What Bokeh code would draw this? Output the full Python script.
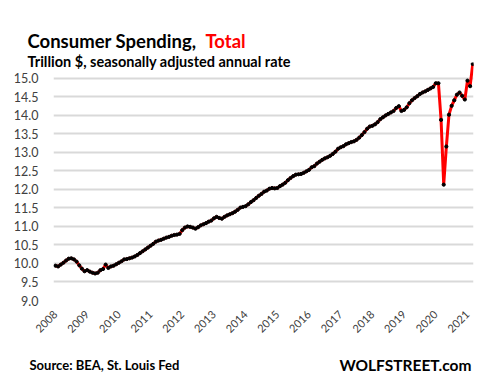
import pandas as pd
from bokeh.plotting import figure
from bokeh.models import Label, FixedTicker, Range1d, CustomJSTickFormatter
from bokeh.embed import file_html
from bokeh.resources import INLINE

# Monthly consumer spending, trillion $, SAAR, Jan 2008 - Mar 2021
v2008 = [9.94, 9.92, 9.97, 10.02, 10.08, 10.13, 10.14, 10.11, 10.05, 9.95, 9.86, 9.79]
v2009 = [9.82, 9.78, 9.75, 9.73, 9.75, 9.82, 9.85, 9.97, 9.88, 9.92, 9.94, 9.98]
v2010 = [10.02, 10.06, 10.11, 10.12, 10.14, 10.16, 10.19, 10.23, 10.28, 10.33, 10.38, 10.43]
v2011 = [10.48, 10.53, 10.59, 10.62, 10.64, 10.67, 10.70, 10.72, 10.75, 10.77, 10.78, 10.80]
v2012 = [10.90, 10.97, 11.00, 10.99, 10.97, 10.94, 10.98, 11.03, 11.06, 11.09, 11.13, 11.16]
v2013 = [11.22, 11.26, 11.23, 11.21, 11.26, 11.30, 11.33, 11.36, 11.40, 11.45, 11.51, 11.53]
v2014 = [11.55, 11.60, 11.66, 11.71, 11.77, 11.83, 11.88, 11.94, 11.97, 12.02, 12.04, 12.03]
v2015 = [12.04, 12.09, 12.13, 12.18, 12.25, 12.31, 12.36, 12.40, 12.41, 12.42, 12.45, 12.49]
v2016 = [12.53, 12.60, 12.63, 12.70, 12.75, 12.80, 12.84, 12.87, 12.91, 12.96, 13.02, 13.10]
v2017 = [13.14, 13.17, 13.22, 13.25, 13.28, 13.30, 13.34, 13.40, 13.47, 13.55, 13.64, 13.70]
v2018 = [13.72, 13.76, 13.82, 13.90, 13.95, 14.00, 14.04, 14.08, 14.12, 14.20, 14.25, 14.12]
v2019 = [14.15, 14.22, 14.33, 14.41, 14.47, 14.52, 14.58, 14.62, 14.65, 14.69, 14.73, 14.77]
v2020 = [14.87, 14.87, 13.88, 12.13, 13.16, 14.02, 14.26, 14.41, 14.56, 14.62, 14.53, 14.43]
v2021 = [14.94, 14.79, 15.39]

values = (v2008 + v2009 + v2010 + v2011 + v2012 + v2013 + v2014 + v2015 +
          v2016 + v2017 + v2018 + v2019 + v2020 + v2021)
dates = pd.date_range("2008-01-01", periods=len(values), freq="MS")
xs = list(dates.year + (dates.month - 1) / 12.0)

year_ticks = list(range(2008, 2022))
y_ticks = [9.0, 9.5, 10.0, 10.5, 11.0, 11.5, 12.0, 12.5, 13.0, 13.5, 14.0, 14.5, 15.0]

title_main = "Consumer  Spending,"
title_red = "Total"
subtitle = "Trillion $, seasonally adjusted annual rate"
source = "Source: BEA, St. Louis Fed"
brand = "WOLFSTREET.com"

FONT = "Lato"
TXT = "#404040"

p = figure(width=490, height=373, output_backend="svg", toolbar_location=None,
           x_range=Range1d(2007.937, 2021.19), y_range=Range1d(9.0, 15.43),
           min_border_left=53, min_border_right=17, min_border_top=62,
           min_border_bottom=58)
p.outline_line_color = None
p.background_fill_color = "white"
p.border_fill_color = "white"

p.xgrid.grid_line_color = None
p.ygrid.grid_line_color = "#d9d9d9"
p.ygrid.grid_line_width = 1.8
p.yaxis.ticker = FixedTicker(ticks=y_ticks)
p.xaxis.ticker = FixedTicker(ticks=year_ticks)

p.yaxis.axis_line_color = None
p.yaxis.major_tick_line_color = None
p.yaxis.minor_tick_line_color = None
p.yaxis.major_label_text_font = FONT
p.yaxis.major_label_text_font_size = "12.5px"
p.yaxis.major_label_text_color = TXT
p.yaxis.major_label_standoff = 9
p.yaxis.formatter = CustomJSTickFormatter(code="return tick.toFixed(1);")

p.xaxis.axis_line_color = None
p.xaxis.major_tick_line_color = None
p.xaxis.minor_tick_line_color = None
p.xaxis.major_label_text_font = FONT
p.xaxis.major_label_text_font_size = "11px"
p.xaxis.major_label_text_color = TXT
p.xaxis.major_label_orientation = 0.785
p.xaxis.major_label_standoff = 6
p.xaxis.formatter = CustomJSTickFormatter(code="return tick.toFixed(0);")

p.line(xs, values, line_color="#ff0000", line_width=3)
p.scatter(xs, values, size=3.2, color="black")


def lab(x, y, text, size, place, color="black", align="left"):
    p.add_layout(Label(x=x, y=y, x_units="canvas", y_units="canvas", text=text,
                       text_font=FONT, text_font_size=size, text_font_style="bold",
                       text_color=color, text_align=align,
                       text_baseline="alphabetic"), place)


lab(27, 40.5, title_main, "18.5px", "above")
lab(205, 40.5, title_red, "18.5px", "above", color="#ff0000")
lab(27, 60.5, subtitle, "14.5px", "above")
lab(29, 364, source, "13px", "below")
lab(471, 364, brand, "15.5px", "below", align="right")

open("out.html", "w").write(file_html(p, INLINE))
